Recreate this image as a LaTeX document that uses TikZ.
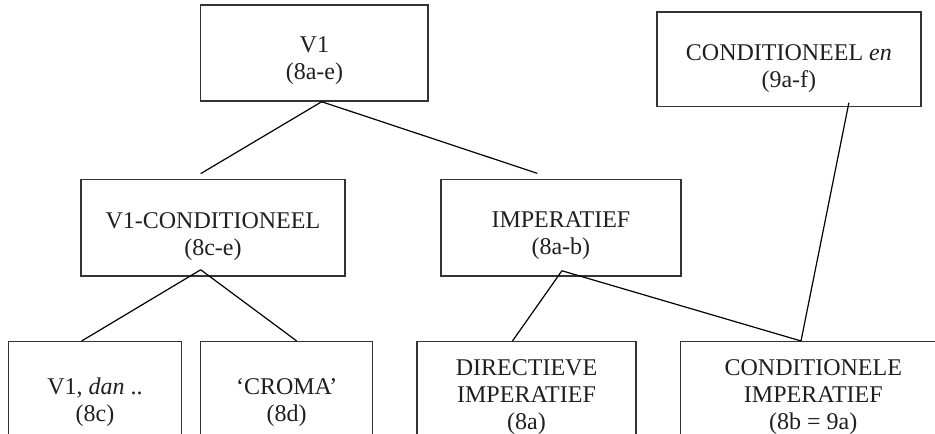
\documentclass[tikz,border=0pt]{standalone}
\usepackage{fontspec}
\setmainfont{Liberation Serif}
\usetikzlibrary{calc,positioning}

\begin{document}
\begin{tikzpicture}[
    x=0.75pt, y=-0.75pt,
    box/.style={draw=black!80, line width=1.1pt, inner sep=0pt},
    txt/.style={align=center, inner sep=0pt, text=black!88, font=\fontsize{18}{20.25}\selectfont},
    link/.style={line width=0.9pt},
 ]
    \useasboundingbox (0,0) rectangle (935,434);
    \clip (0,0) rectangle (935,434);

    \node[box, minimum width=170.5pt, minimum height=72pt]   (V1)   at (314.4,53)    {};
    \node[box, minimum width=198.2pt, minimum height=71pt]   (CE)   at (788.9,59.3)  {};
    \node[box, minimum width=198.2pt, minimum height=72.5pt] (V1C)  at (212.9,227.7) {};
    \node[box, minimum width=179.8pt, minimum height=72.5pt] (IMP)  at (560.9,227.7) {};
    \node[box, minimum width=130pt,   minimum height=75pt]   (DAN)  at (95,391.7)    {};
    \node[box, minimum width=129pt,   minimum height=75pt]   (CRO)  at (286.7,391.7) {};
    \node[box, minimum width=164.3pt, minimum height=75pt]   (DIR)  at (526.5,391.7) {};
    \node[box, minimum width=199pt,   minimum height=75pt]   (CIMP) at (813.3,391.7) {};

    \node[txt] (V1t)   at ($(V1)+(0,7.7)$)   {V1\\(8a-e)};
    \node[txt] (CEt)   at ($(CE)+(0,9.7)$)   {CONDITIONEEL \textit{en}\\(9a-f)};
    \node[txt] (V1Ct)  at ($(V1C)+(0,9)$)    {V1-CONDITIONEEL\\(8c-e)};
    \node[txt] (IMPt)  at ($(IMP)+(0,8)$)    {IMPERATIEF\\(8a-b)};
    \node[txt] (DANt)  at ($(DAN)+(0,11)$)   {V1, \textit{dan} ..\\(8c)};
    \node[txt] (CROt)  at ($(CRO)+(0,11)$)   {`CROMA'\\(8d)};
    \node[txt] (DIRt)  at ($(DIR)+(0,5.6)$)  {DIRECTIEVE\\IMPERATIEF\\(8a)};
    \node[txt] (CIMPt) at ($(CIMP)+(0,5.6)$) {CONDITIONELE\\IMPERATIEF\\(8b = 9a)};

    \coordinate (V1s)  at ($(V1.south)+(7.3,0)$);
    \coordinate (V1Cs) at ($(V1C.south)+(-12.2,-7)$);
    \coordinate (IMPs) at ($(IMP.south)+(1,-6)$);
    \coordinate (CEs)  at ($(CE.south)+(60,-4.7)$);
    \coordinate (V1Cn) at ($(V1C.north)+(-12.2,-5)$);
    \coordinate (IMPn) at ($(IMP.north)+(-23.6,-5.3)$);

    \draw[link] (V1s) -- (V1Cn);
    \draw[link] (V1s) -- (IMPn);
    \draw[link] (V1Cs) -- ($(DAN.north)+(-13.3,0)$);
    \draw[link] (V1Cs) -- ($(CRO.north)+(10,0)$);
    \draw[link] (IMPs) -- ($(DIR.north)+(-14,0)$);
    \draw[link] (IMPs) -- ($(CIMP.north)+(-12.3,0)$);
    \draw[link] (CEs) -- ($(CIMP.north)+(-12.3,0)$);

\end{tikzpicture}
\end{document}
